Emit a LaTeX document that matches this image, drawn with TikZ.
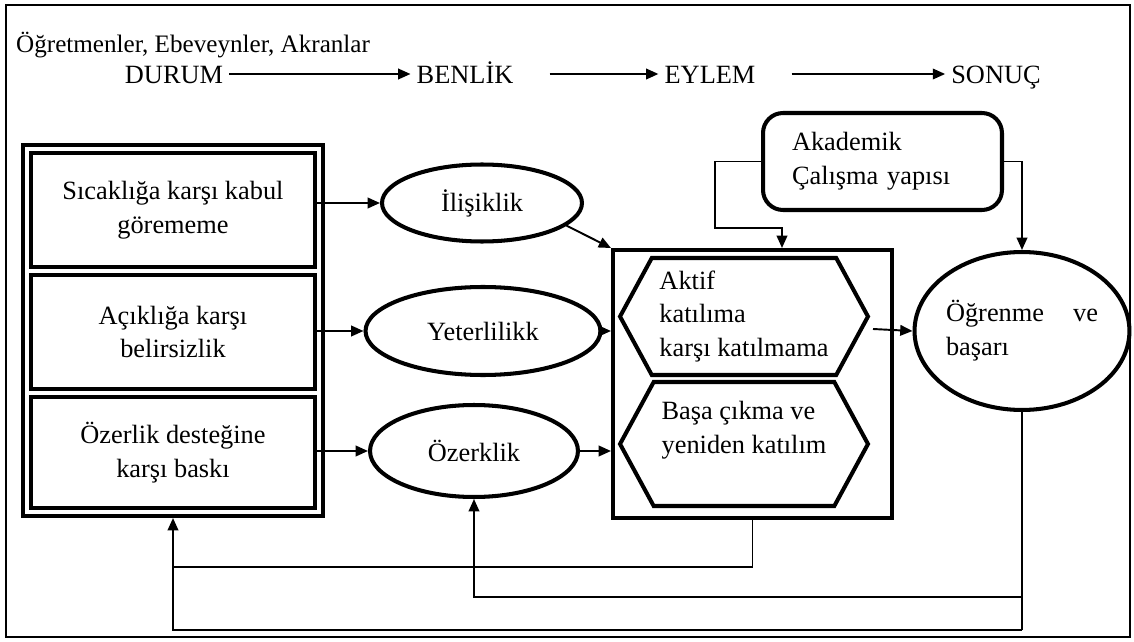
\documentclass[tikz,border=0pt]{standalone}
\usepackage{fontspec}
\setmainfont{Liberation Serif}
\usetikzlibrary{shapes.geometric,shapes.symbols,arrows.meta,fit}

\begin{document}
\begin{tikzpicture}[x=0.02cm, y=-0.02cm,
    every node/.style={font=\fontsize{15}{19.3}\selectfont, align=center},
    toprow/.style={text height=10.5pt, text depth=0pt},
    sidebox/.style={draw, line width=2.3pt, minimum width=5.68cm, minimum height=2.28cm},
    oval/.style={ellipse, draw, line width=2.3pt},
    hexa/.style={signal, signal to=west and east, signal pointer angle=123, draw, line width=2.3pt,
                 minimum width=4.96cm, align=left},
    arr/.style={line width=1.1pt, -{Triangle[length=7pt,width=6pt]}},
    fb/.style={line width=1.1pt}]
    \useasboundingbox (0,0) rectangle (1134,642);
    \draw[line width=1pt] (6,5) rectangle (1130,637);

    % top row
    \node[anchor=west, font=\fontsize{14.3}{17}\selectfont] (actors) at (10,45) {Öğretmenler, Ebeveynler, Akranlar};
    \node[toprow] (durum) at (174,74) {DURUM};
    \node[toprow] (benlik) at (465,74) {BENLİK};
    \node[toprow] (eylem) at (710,74) {EYLEM};
    \node[toprow] (sonuc) at (996,74) {SONUÇ};
    \draw[arr] (durum) -- (benlik);
    \draw[arr, shorten <=0.6cm] (benlik) -- (eylem);
    \draw[arr, shorten <=0.6cm] (eylem) -- (sonuc);

    % context
    \node[sidebox] (warm) at (173,210) {Sıcaklığa karşı kabul\\görememe};
    \node[sidebox] (open) at (173,332) {Açıklığa karşı\\belirsizlik};
    \node[sidebox, minimum height=2.22cm] (press) at (173,452.5) {Özerlik desteğine\\karşı baskı};
    \node[draw, line width=2.3pt, fit=(warm)(open)(press), inner sep=0.12cm] (context) {};

    % self
    \node[oval, minimum width=4cm, minimum height=1.54cm] (ilis) at (482,203) {İlişiklik};
    \node[oval, minimum width=4.7cm, minimum height=1.76cm] (yeter) at (483,331) {Yeterlilikk};
    \node[oval, minimum width=4.16cm, minimum height=1.84cm] (ozer) at (474,451) {Özerklik};

    % action
    \node[draw, line width=2.3pt, minimum width=5.58cm, minimum height=5.36cm] (action) at (752.5,384) {};
    \node[hexa, minimum height=2.34cm] (aktif) at (744,316.5) {Aktif\\katılıma\\karşı katılmama};
    \node[hexa, minimum height=2.48cm] (basa) at (744,444) {Başa çıkma ve\\yeniden katılım\\\mbox{}};

    \node[draw, line width=2.3pt, rounded corners=0.4cm, minimum width=4.78cm, minimum height=1.94cm,
          text width=3.62cm, align=left] (akad) at (882.5,161.5) {Akademik\\Çalışma yapısı};
    \node[ellipse, draw, line width=2.3pt, minimum width=3.7cm, minimum height=3.16cm, text width=3.04cm,
          inner sep=0pt, align=left] (learn) at (1022,331) {\makebox[3.04cm][l]{Öğrenme\hfill ve}\\başarı};

    \coordinate (akbend) at (782,228);
    \coordinate (fbtop) at (173,567);
    \coordinate (fbmid) at (474,597);
    \coordinate (fbleft) at (173,630);

    \draw[arr] (ilis.west -| warm.east) -- (ilis.west);
    \draw[arr] (yeter.west -| open.east) -- (yeter.west);
    \draw[arr] (ozer.west -| press.east) -- (ozer.west);
    \draw[arr] (ilis.-15) -- (action.north west);
    \draw[arr] (yeter.east) -- (yeter.east -| action.west);
    \draw[arr] (ozer.east) -- (ozer.east -| action.west);
    \draw[arr] (akad.west) -| (715,228) -- (akbend) -- (akbend |- action.north);
    \draw[arr] (akad.east) -| (learn.north);
    \draw[arr] (873,329) -- (learn.west);

    % feedback
    \draw[fb] (action.south) |- (fbtop);
    \draw[line width=0.6pt] (learn.south) -- (learn.south |- fbleft);
    \draw[arr] (learn.south |- fbmid) -- (fbmid) -- (ozer.south);
    \draw[arr] (learn.south |- fbleft) -- (fbleft) -- (fbleft |- context.south);
\end{tikzpicture}
\end{document}
